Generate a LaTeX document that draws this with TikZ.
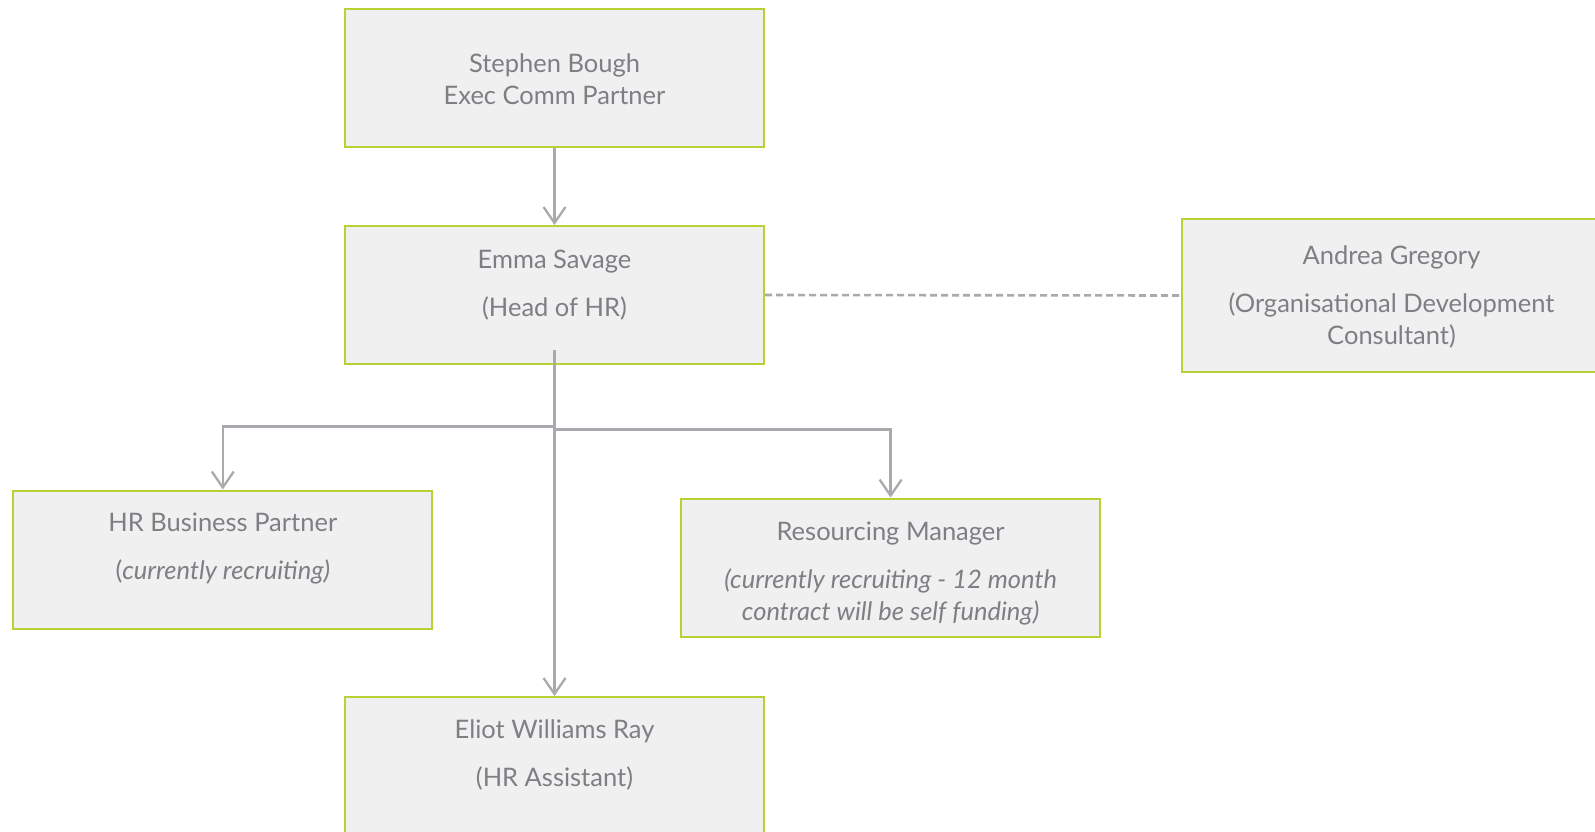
\documentclass[tikz,border=0pt]{standalone}
\usepackage{fontspec}
\setmainfont{Lato}
\usetikzlibrary{arrows.meta}
\definecolor{boxfill}{HTML}{F0F0F0}
\definecolor{boxline}{HTML}{B5D334}
\definecolor{txtgray}{HTML}{7E7E85}
\definecolor{conngray}{HTML}{A9A9AE}
\begin{document}
\begin{tikzpicture}[x=1pt,y=-1pt,
    box/.style={draw=boxline,fill=boxfill,line width=2pt,minimum width=419pt,minimum height=138pt,inner sep=0pt},
    txt/.style={align=center,text=txtgray,font=\fontsize{25.5}{32}\selectfont,inner sep=0pt},
    conn/.style={draw=conngray,line width=2.3pt,-{Straight Barb[length=16pt,width=22pt,line width=2.3pt]}},
    dashline/.style={draw=conngray,line width=2.6pt,dash pattern=on 7pt off 4pt}]
    \useasboundingbox (0,0) rectangle (1595,831);
    % boxes
    \node[box] (stephen) at (554.5,78) {};
    \node[box] (emma) at (554.5,295) {};
    \node[box,minimum height=153pt] (andrea) at (1391.5,295.5) {};
    \node[box] (hrbp) at (222.8,559.5) {};
    \node[box] (resourcing) at (890.6,567.6) {};
    \node[box] (eliot) at (554.5,766) {};
    % texts
    \node[txt] (stephentxt) at ([yshift=-1pt]stephen.center) {Stephen Bough\\Exec Comm Partner};
    \node[txt] (emmatxt) at ([yshift=10pt]emma.center) {Emma Savage\\[16pt](Head of HR)};
    \node[txt] (andreatxt) at ([yshift=-1pt]andrea.center) {Andrea Gregory\\[16pt](Organisational Development\\Consultant)};
    \node[txt] (hrbptxt) at ([yshift=10.5pt]hrbp.center) {HR Business Partner\\[16pt](\textit{currently recruiting)}};
    \node[txt] (resourcingtxt) at ([yshift=-6pt]resourcing.center) {Resourcing Manager\\[16pt]\textit{(currently recruiting - 12 month}\\\textit{contract will be self funding)}};
    \node[txt] (eliottxt) at ([yshift=11.5pt]eliot.center) {Eliot Williams Ray\\[16pt](HR Assistant)};
    % lines
    \coordinate (emmaout) at ([yshift=15pt]emma.south);
    \draw[conn] (stephen) -- (emma);
    \draw[conn] (emmaout) |- ([yshift=63pt]hrbp.north) -- (hrbp.north);
    \draw[conn] (emmaout) |- ([yshift=68pt]resourcing.north) -- (resourcing.north);
    \draw[conn] (emmaout) -- (eliot.north);
    \draw[dashline] (emma.east) -- (andrea.west);
\end{tikzpicture}
\end{document}
